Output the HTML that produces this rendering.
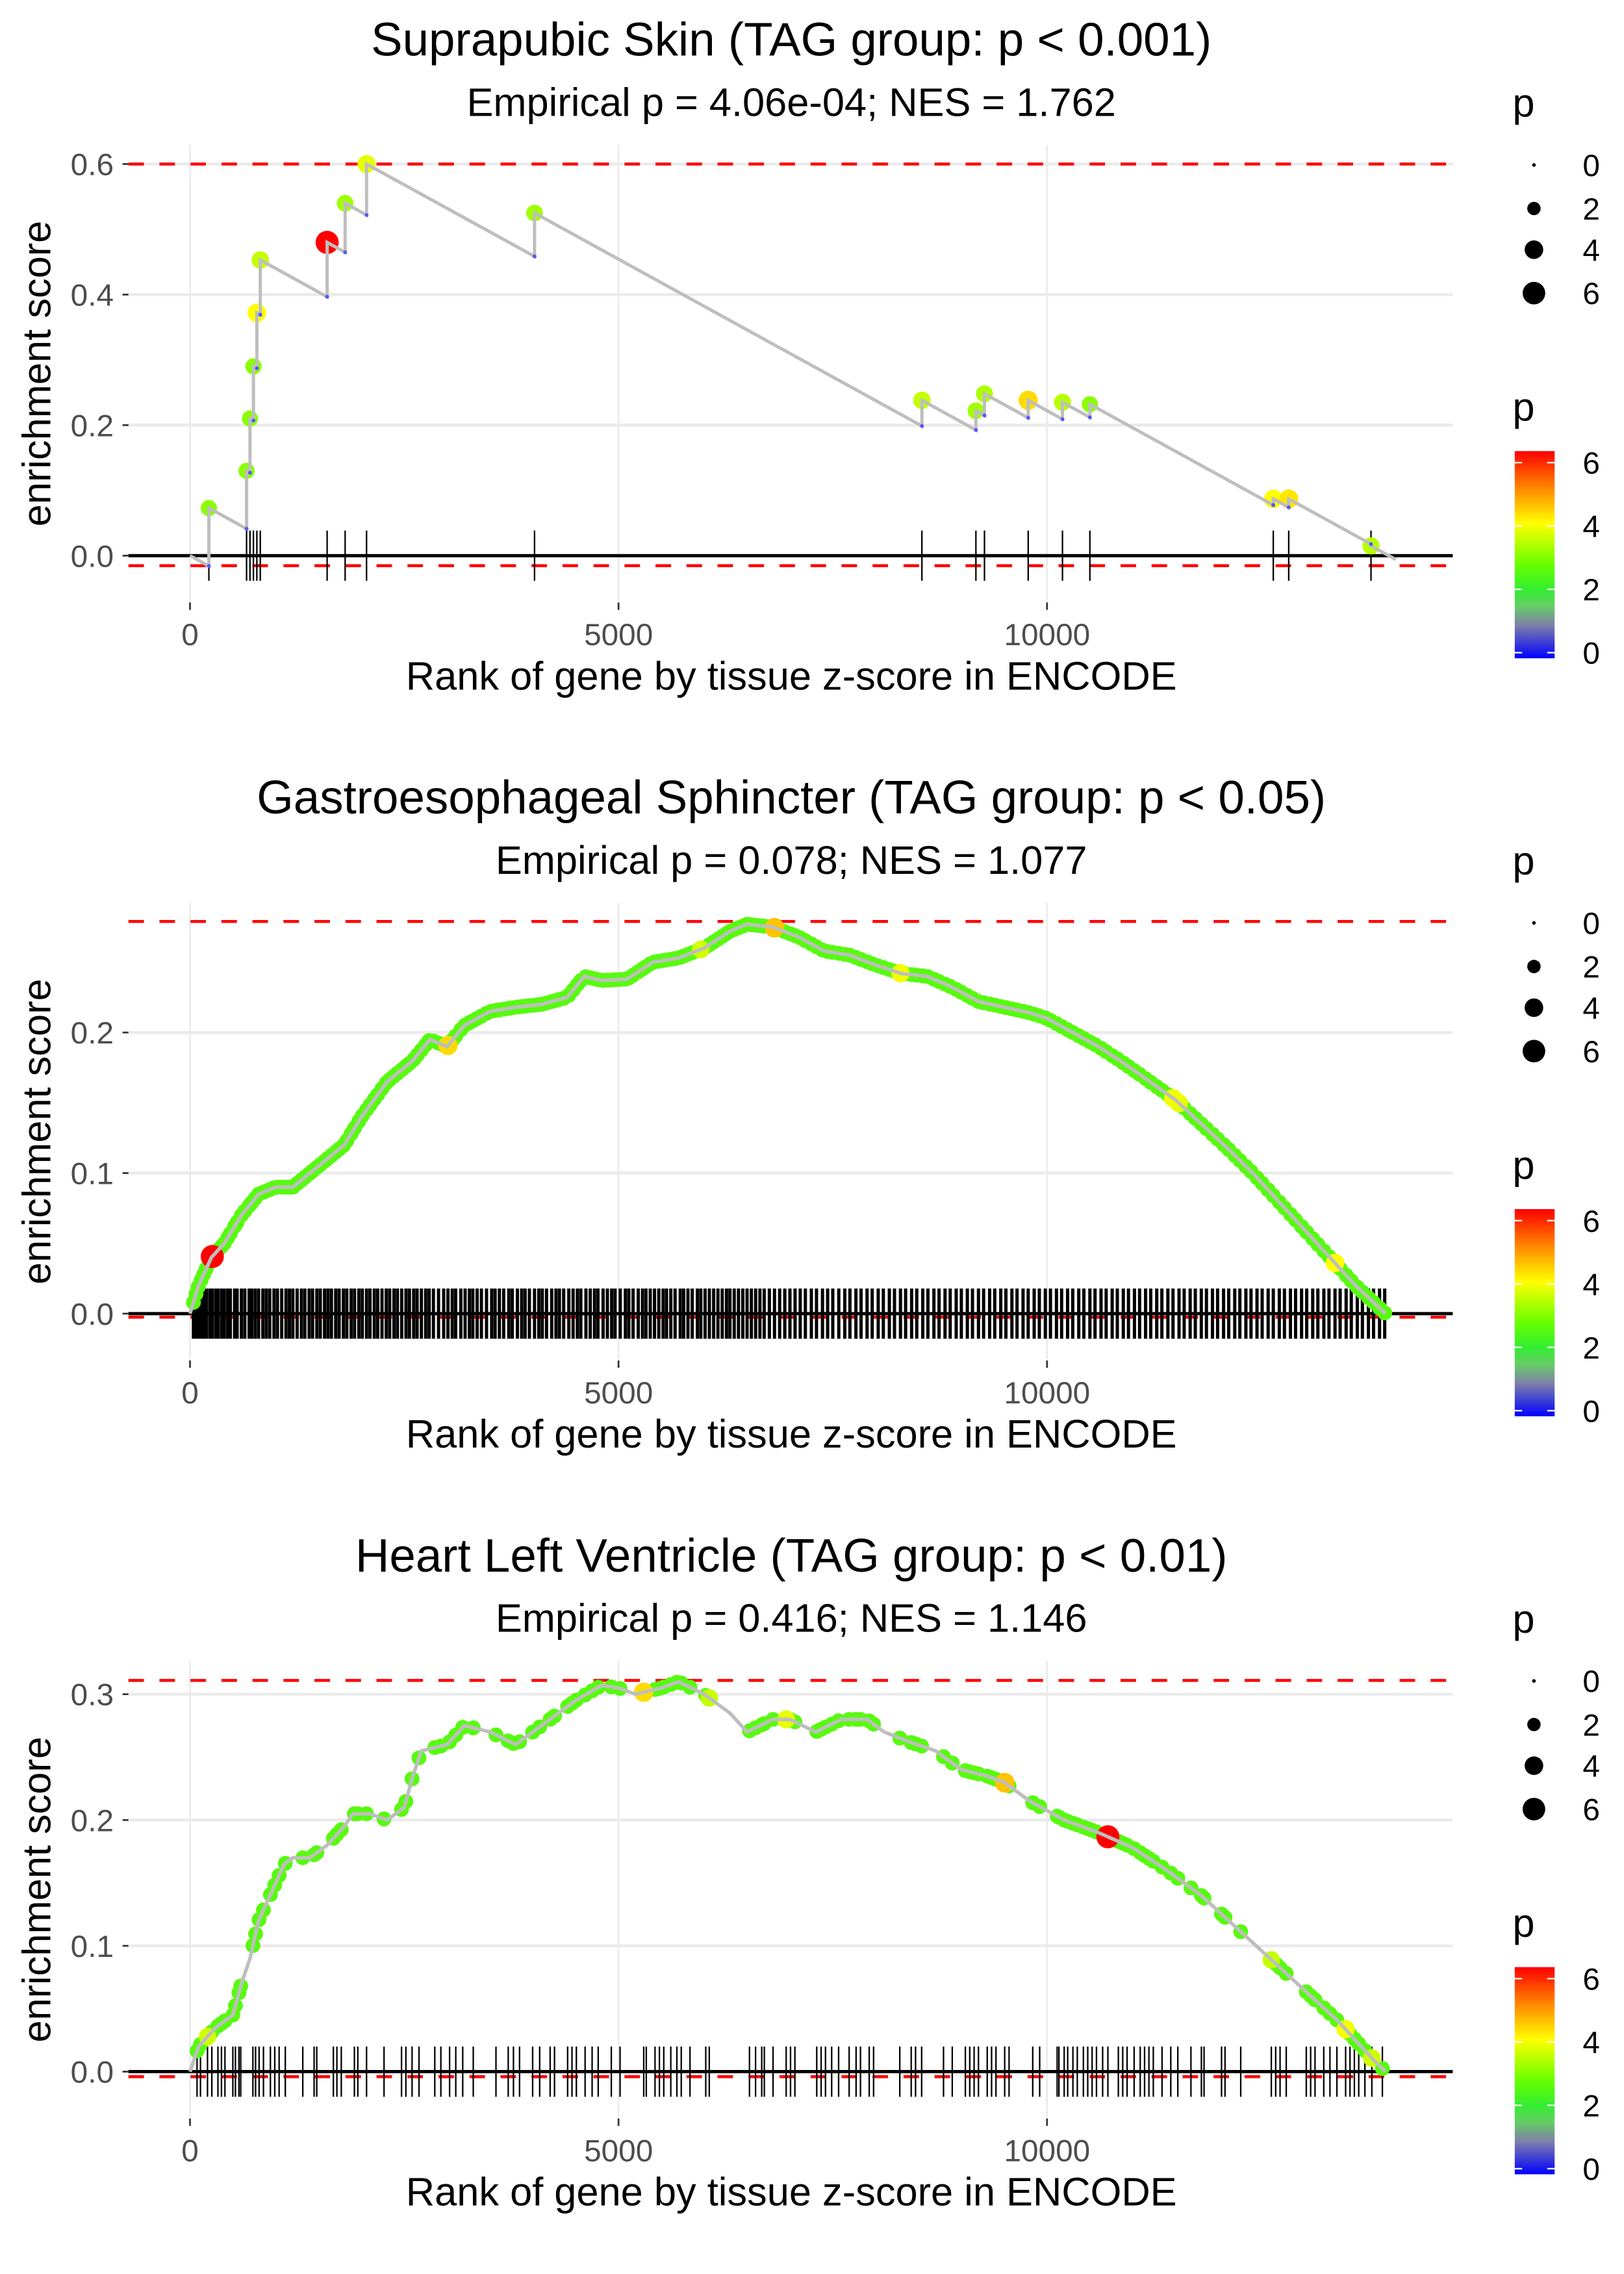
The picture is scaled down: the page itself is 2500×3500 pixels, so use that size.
<!DOCTYPE html>
<html><head><meta charset="utf-8"><style>
html,body{margin:0;padding:0;background:#fff;}
svg{display:block;font-family:"Liberation Sans",Arial,sans-serif;}
</style></head><body>
<svg id="chart" width="2500" height="3500" viewBox="0 0 1100 1540" xmlns="http://www.w3.org/2000/svg">
<defs>
<linearGradient id="cbar" x1="0" y1="1" x2="0" y2="0">
<stop offset="0" stop-color="#0000ff"/><stop offset="0.16" stop-color="#8080a8"/><stop offset="0.25" stop-color="#66cc66"/><stop offset="0.33" stop-color="#33ee33"/><stop offset="0.45" stop-color="#66ff00"/><stop offset="0.65" stop-color="#ffff00"/><stop offset="0.82" stop-color="#ff8800"/><stop offset="1" stop-color="#ff0000"/>
</linearGradient>
</defs>
</svg>
<script>
// ---------- data ----------
const titles = ["Suprapubic Skin (TAG group: p < 0.001)","Gastroesophageal Sphincter (TAG group: p < 0.05)","Heart Left Ventricle (TAG group: p < 0.01)"];
const subtitles = ["Empirical p = 4.06e-04; NES = 1.762","Empirical p = 0.078; NES = 1.077","Empirical p = 0.416; NES = 1.146"];
const xTicks = [0,5000,10000];
const yTicks1 = [0.0,0.2,0.4,0.6];
const yTicks2 = [0.0,0.1,0.2];
const yTicks3 = [0.0,0.1,0.2,0.3];
const esMax = [0.6,0.279,0.311];
const esMin = [-0.0154,-0.0025,-0.004];
const nGenes = 14070;
// panel 1 hits
const p1Ranks = [220,660,700,740,780,820,1600,1810,2060,4020,8540,9170,9270,9780,10180,10500,12640,12820,13780];
const p1ES = [0.073,0.13,0.21,0.29,0.372,0.453,0.48,0.54,0.6,0.525,0.238,0.222,0.248,0.238,0.235,0.232,0.087,0.087,0.015];
const p1P = [3,3,3,3,4,3.5,6.3,3.2,3.8,3.2,3.5,3.2,3.3,4.3,3.4,3,4,4.2,3.4];
const p1Penalty = 0.0000722;
// panel 2 curve and hits
const c2Ranks = [0,100,250,400,600,800,1000,1200,1500,1800,2000,2300,2600,2800,3000,3200,3500,3800,4100,4400,4600,4800,5100,5400,5700,6000,6300,6500,6800,7100,7400,7700,8000,8300,8600,8900,9200,9500,9800,10000,10300,10600,10900,11200,11500,11800,12100,12400,12700,13000,13300,13600,13950];
const c2ES = [0,0.02,0.04,0.05,0.07,0.085,0.09,0.09,0.105,0.12,0.14,0.165,0.18,0.195,0.19,0.205,0.215,0.218,0.22,0.225,0.24,0.237,0.238,0.25,0.253,0.26,0.272,0.277,0.275,0.268,0.258,0.255,0.248,0.242,0.24,0.232,0.222,0.218,0.214,0.21,0.2,0.19,0.178,0.165,0.152,0.135,0.118,0.1,0.08,0.06,0.04,0.02,0];
const h2Ranks = [40,70,95,130,160,190,230,260,300,330,370,400,440,470,520,550,600,640,690,720,760,800,850,890,930,980,1020,1070,1120,1160,1200,1250,1300,1340,1390,1430,1480,1520,1570,1610,1650,1700,1740,1790,1830,1880,1920,1970,2010,2060,2100,2150,2190,2240,2290,2330,2380,2420,2470,2520,2560,2610,2650,2700,2750,2790,2840,2900,2960,3010,3060,3100,3160,3210,3260,3300,3350,3400,3460,3520,3560,3610,3660,3720,3760,3820,3870,3910,3960,4020,4070,4110,4160,4220,4270,4310,4360,4420,4470,4520,4560,4620,4670,4720,4760,4820,4870,4920,4960,5020,5080,5120,5170,5230,5280,5320,5370,5420,5470,5520,5560,5610,5660,5720,5760,5810,5860,5920,5960,6010,6060,6110,6160,6210,6260,6300,6350,6400,6450,6500,6550,6600,6650,6700,6760,6820,6880,6940,7000,7060,7120,7180,7250,7310,7380,7440,7500,7570,7640,7700,7770,7830,7900,7960,8030,8090,8160,8220,8290,8350,8420,8480,8550,8610,8680,8740,8810,8870,8940,9000,9070,9130,9200,9260,9330,9390,9460,9520,9590,9650,9720,9780,9850,9910,9980,10040,10110,10170,10240,10300,10370,10430,10500,10560,10630,10690,10760,10820,10890,10950,11020,11080,11150,11210,11280,11340,11410,11470,11540,11600,11670,11730,11800,11860,11930,11990,12060,12120,12190,12250,12320,12380,12450,12510,12580,12640,12710,12770,12840,12900,12970,13030,13100,13160,13230,13290,13360,13420,13490,13550,13620,13680,13750,13810,13880,13940];
const h2HiRanks = [260,3010,6820,8290,11470,11540,13360,5960];
const h2HiP = [6.3,4.3,4.5,3.9,3.9,3.8,4,3.6];
const defaultP = 2.5;
// panel 3 curve and hits
const c3Ranks = [0,100,300,500,600,700,800,900,1000,1100,1200,1400,1600,1800,1900,2100,2300,2500,2600,2700,3000,3200,3500,3800,4000,4200,4500,4800,5000,5200,5500,5700,6000,6300,6500,6800,7000,7300,7600,7900,8100,8400,8700,9000,9300,9500,9800,10200,10600,11000,11400,11800,12200,12600,13000,13400,13800,13950];
const c3ES = [0,0.02,0.035,0.045,0.07,0.09,0.12,0.135,0.15,0.165,0.17,0.17,0.18,0.195,0.205,0.205,0.2,0.21,0.235,0.255,0.26,0.275,0.27,0.26,0.27,0.28,0.295,0.307,0.305,0.3,0.305,0.31,0.3,0.285,0.27,0.28,0.28,0.27,0.28,0.28,0.27,0.262,0.255,0.24,0.235,0.23,0.215,0.2,0.19,0.178,0.16,0.14,0.115,0.09,0.065,0.04,0.01,0];
const h3Ranks = [82,122,204,255,326,367,408,500,530,571,592,734,765,806,857,938,989,1040,1112,1316,1448,1479,1673,1714,1765,1918,1958,2060,2264,2468,2519,2591,2672,2856,2927,3029,3101,3182,3305,3570,3713,3774,3845,3998,4080,4202,4253,4406,4457,4508,4610,4692,4763,4916,5018,5294,5324,5426,5477,5528,5610,5681,5732,5834,6018,6059,6528,6599,6671,6701,6803,6956,7007,7058,7313,7364,7415,7487,7568,7691,7772,7823,7925,7976,8282,8415,8466,8537,8792,8894,9047,9098,9149,9200,9302,9353,9404,9506,9557,9833,9914,10118,10139,10200,10241,10302,10353,10424,10475,10526,10577,10649,10710,10832,10883,10934,11016,11087,11138,11189,11240,11342,11444,11526,11679,11801,11832,12036,12077,12260,12617,12668,12719,12791,13025,13076,13127,13229,13301,13382,13484,13535,13586,13637,13709,13790,13913];
const h3HiRanks = [10710,5294,9506,6956,13484,13790,12617,204,6059];
const h3HiP = [6.3,4.3,4.5,3.8,3.9,3.6,3.5,3.6,3.5];
const sizeLegend = [0,2,4,6];
const colorLegend = [0,2,4,6];

// ---------- helpers ----------
const svg = document.getElementById('chart');
const NS = 'http://www.w3.org/2000/svg';
function mk(tag, attrs, parent){ const e=document.createElementNS(NS,tag); for(const k in attrs) e.setAttribute(k,attrs[k]); (parent||svg).appendChild(e); return e; }
const PL=87, PR=984, PANEL_H=513.333;
const xScale = r => 128.7 + r*0.05805;
function yScaleFor(i){ const zero=376.3+i*PANEL_H; const k=[442,952,852][i]; return v => zero - v*k; }
function pColor(p){
  const stops=[[0,[0,0,255]],[1,[128,128,168]],[1.5,[102,204,102]],[2,[51,238,51]],[2.7,[102,255,0]],[4,[255,255,0]],[5,[255,136,0]],[6.2,[255,0,0]]];
  if(p<=0) return 'rgb(0,0,255)';
  for(let i=1;i<stops.length;i++){ if(p<=stops[i][0]){ const a=stops[i-1],b=stops[i]; const t=(p-a[0])/(b[0]-a[0]); const c=a[1].map((v,j)=>Math.round(v+(b[1][j]-v)*t)); return 'rgb('+c.join(',')+')'; } }
  return 'rgb(255,0,0)';
}
const pRadius = p => Math.sqrt(1.5+9.5*p);
function interp(rs, es, r){ for(let i=1;i<rs.length;i++){ if(r<=rs[i]){ const t=(r-rs[i-1])/(rs[i]-rs[i-1]); return es[i-1]+(es[i]-es[i-1])*t; } } return es[es.length-1]; }

function drawFrame(i, yTicks){
  const y=yScaleFor(i), off=i*PANEL_H;
  const g=mk('g',{});
  
  
  const t=mk('text',{x:536,y:37.6+off,'text-anchor':'middle','font-size':32,fill:'#000'},g); t.textContent=titles[i];
  
  
  const s=mk('text',{x:536,y:78.5+off,'text-anchor':'middle','font-size':27,fill:'#000'},g); s.textContent=subtitles[i];
  
  
  yTicks.forEach(v=>{ const l=mk('line',{x1:PL,x2:PR,y1:y(v),y2:y(v),stroke:'#ebebeb','stroke-width':2},g);
    
    
    const tk=mk('line',{x1:83,x2:87,y1:y(v),y2:y(v),stroke:'#333','stroke-width':1.2},g);
    
    
    const lb=mk('text',{x:77,y:y(v)+7.5,'text-anchor':'end','font-size':21,fill:'#4d4d4d'},g); lb.textContent=v.toFixed(1);
    
    
  });
  xTicks.forEach(v=>{ const l=mk('line',{x1:xScale(v),x2:xScale(v),y1:98+off,y2:407+off,stroke:'#ebebeb','stroke-width':1.2},g);
    
    
    const tk=mk('line',{x1:xScale(v),x2:xScale(v),y1:408+off,y2:413+off,stroke:'#333','stroke-width':1.2},g);
    
    
    const lb=mk('text',{x:xScale(v),y:437+off,'text-anchor':'middle','font-size':21,fill:'#4d4d4d'},g); lb.textContent=String(v);
    
    
  });
  const xt=mk('text',{x:536,y:467+off,'text-anchor':'middle','font-size':27,fill:'#000'},g); xt.textContent='Rank of gene by tissue z-score in ENCODE';
  
  
  const yt=mk('text',{x:0,y:0,'text-anchor':'middle','font-size':27,fill:'#000',transform:'translate(34,'+(253+off)+') rotate(-90)'},g); yt.textContent='enrichment score';
  
  
  const lp=mk('text',{x:1032,y:79+off,'text-anchor':'middle','font-size':27},g); lp.textContent='p';
  
  
  sizeLegend.forEach((p,k)=>{ const cy=[111.7,141.2,169.1,198.5][k]+off;
    const c=mk('circle',{cx:1039,cy:cy,r:pRadius(p),fill:'#000'},g);
    
    
    const tl=mk('text',{x:1072,y:cy+7.5,'font-size':21},g); tl.textContent=String(p);
    
    
  });
  const cp=mk('text',{x:1032,y:285+off,'text-anchor':'middle','font-size':27},g); cp.textContent='p';
  
  
  const cb=mk('rect',{x:1026,y:305.5+off,width:27,height:140.3,fill:'url(#cbar)'},g);
  
  
  colorLegend.forEach(p=>{ const cy=442-p*21.45+off;
    mk('line',{x1:1026,x2:1031,y1:cy,y2:cy,stroke:'#fff','stroke-width':1},g);
    mk('line',{x1:1048,x2:1053,y1:cy,y2:cy,stroke:'#fff','stroke-width':1},g);
    const tl=mk('text',{x:1072,y:cy+7.5,'font-size':21},g); tl.textContent=String(p);
    
    
  });
  [esMax[i],esMin[i]].forEach(v=>{ const d=mk('line',{x1:PL,x2:PR,y1:y(v),y2:y(v),stroke:'#ff0000','stroke-width':2,'stroke-dasharray':'10.5,10.5'},g);
    
    
  });
  return g;
}
function drawRug(g, ranks, i){
  const y=yScaleFor(i); const z=y(0);
  let d=''; ranks.forEach(r=>{ d+='M'+xScale(r).toFixed(2)+' '+(z-17)+'V'+(z+17); });
  const p=mk('path',{d:d,stroke:'#000','stroke-width':(i===1?2.2:1),fill:'none'},g);
  
  
  const zl=mk('line',{x1:PL,x2:PR,y1:z,y2:z,stroke:'#000','stroke-width':2.2},g);
  
  
}
function drawDots(g, xs, ys, ps){
  xs.forEach((r,k)=>{ const c=mk('circle',{cx:xScale(r),cy:ys[k],r:pRadius(ps[k]),fill:pColor(ps[k])},g);
    
    
  });
}

// ---------- panel 1 ----------
(function(){
  const g=drawFrame(0,yTicks1); const y=yScaleFor(0);
  drawRug(g,p1Ranks,0);
  let pts=[[0,0]], prevR=0, prevE=0, before=[];
  p1Ranks.forEach((r,k)=>{ const b=prevE-p1Penalty*(r-prevR); before.push(b); pts.push([r,b]); pts.push([r,p1ES[k]]); prevR=r; prevE=p1ES[k]; });
  pts.push([nGenes, prevE-p1Penalty*(nGenes-prevR)]);
  drawDots(g,p1Ranks,p1ES.map(v=>y(v)),p1P);
  const l=mk('polyline',{points:pts.map(p=>xScale(p[0]).toFixed(2)+','+y(p[1]).toFixed(2)).join(' '),fill:'none',stroke:'#bebebe','stroke-width':2.2},g);
  
  
  p1Ranks.forEach((r,k)=>{ const c=mk('circle',{cx:xScale(r),cy:y(before[k]),r:1.3,fill:'#5555ff'},g);
    
    
  });
})();

// ---------- panels 2 & 3 ----------
function curvePanel(i, yT, cR, cE, hR, hiR, hiP){
  const g=drawFrame(i,yT); const y=yScaleFor(i);
  drawRug(g,hR,i);
  const ps=hR.map(r=>{ const k=hiR.indexOf(r); return k>=0?hiP[k]:defaultP; });
  const order=hR.map((r,k)=>k).sort((a,b)=>ps[a]-ps[b]);
  drawDots(g, order.map(k=>hR[k]), order.map(k=>y(interp(cR,cE,hR[k]))), order.map(k=>ps[k]));
  const l=mk('polyline',{points:cR.map((r,k)=>xScale(r).toFixed(2)+','+y(cE[k]).toFixed(2)).join(' '),fill:'none',stroke:'#bebebe','stroke-width':2.4},g);
  
  
}
curvePanel(1,yTicks2,c2Ranks,c2ES,h2Ranks,h2HiRanks,h2HiP);
curvePanel(2,yTicks3,c3Ranks,c3ES,h3Ranks,h3HiRanks,h3HiP);
</script>
</body></html>
